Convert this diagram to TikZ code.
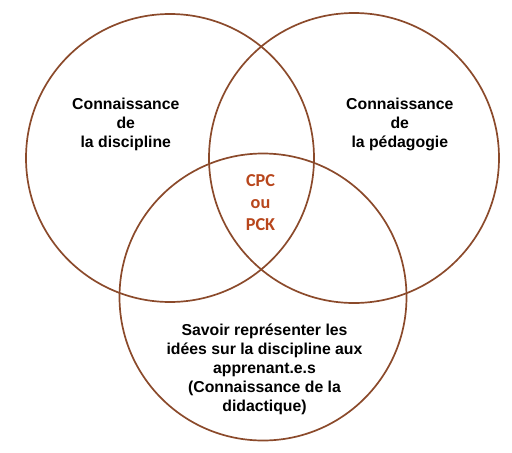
\documentclass[tikz,border=0pt]{standalone}
\usepackage{fontspec}
\setmainfont{Liberation Sans}
\newfontfamily\corefont{Carlito}
\definecolor{ring}{HTML}{8B4A2B}
\definecolor{pck}{HTML}{B8461C}
\tikzset{
  ring/.style={draw=ring, line width=1.7pt},
  lbl/.style={align=center, font=\fontsize{15.8}{19.1}\selectfont\bfseries, inner sep=0pt},
  core/.style={align=center, font=\corefont\fontsize{18.2}{21.7}\selectfont\bfseries, text=pck, inner sep=0pt}
}
\begin{document}
\begin{tikzpicture}[x=1pt,y=-1pt]
\useasboundingbox (0,0) rectangle (512,453);
\node[ring, circle, minimum size=288pt, inner sep=0pt] (cl) at (170,158) {};
\node[ring, circle, minimum size=290pt, inner sep=0pt] (cr) at (354,158) {};
\node[ring, circle, minimum size=287pt, inner sep=0pt] (cb) at (263,297) {};
\node[lbl] (tl) at (125.8,124.6) {Connaissance\\de\\la discipline};
\node[lbl] (tr) at (399.8,124.6) {Connaissance\\de\\la pédagogie};
\node[lbl] (tb) at (264.5,369.5) {Savoir représenter les\\idées sur la discipline aux\\apprenant.e.s\\(Connaissance de la\\didactique)};
\node[core] (tc) at (260.5,202.5) {CPC\\ou\\PCK};
\end{tikzpicture}
\end{document}
